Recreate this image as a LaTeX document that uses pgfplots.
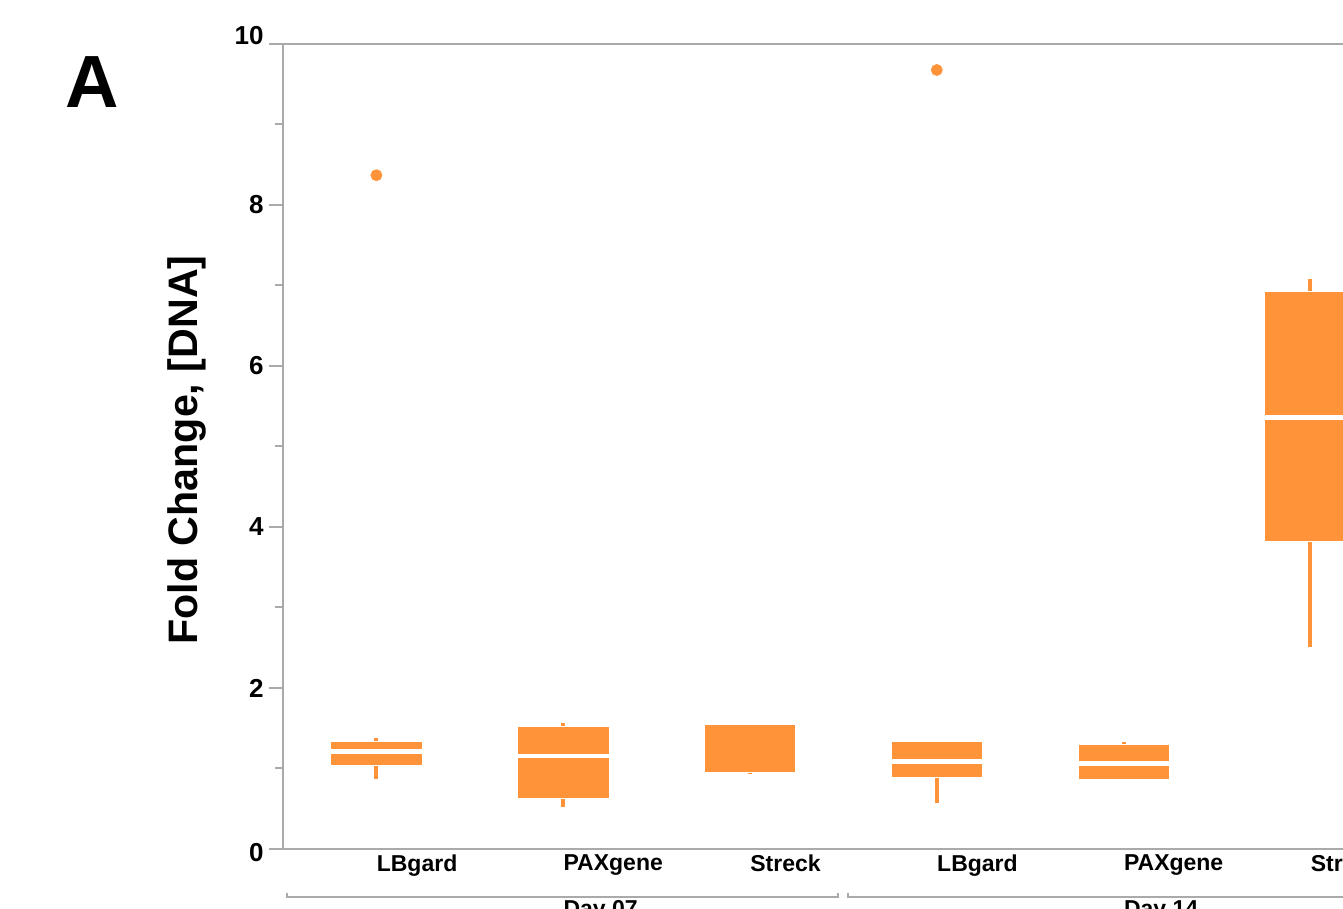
\documentclass[border=0pt]{standalone}
\usepackage{fontspec}
\setmainfont{Liberation Sans}
\usepackage{pgfplots}
\pgfplotsset{compat=1.18}
\usepgfplotslibrary{statistics}
\definecolor{boxorange}{RGB}{255,147,58}
\definecolor{axgray}{RGB}{170,170,170}
\begin{document}
\begin{tikzpicture}
\useasboundingbox (0,0) rectangle (671.5pt,454.5pt);
\clip (0,0) rectangle (671.5pt,454.5pt);
\begin{axis}[
  at={(141.5pt,30pt)}, anchor=south west,
  scale only axis, width=560.4pt, height=402.5pt,
  xmin=0.5, xmax=6.5, ymin=0, ymax=10,
  clip=false,
  axis line style={axgray, line width=1pt},
  xtick={1,...,6},
  xticklabels={LBgard,PAXgene,\raisebox{1.5pt}{Streck},LBgard,PAXgene,\raisebox{1.5pt}{Streck}},
  xtick style={draw=none},
  x tick label style={anchor=north west, inner sep=0pt, font=\fontsize{11.5}{12}\selectfont\bfseries, yshift=4.5pt},
  ytick={0,2,4,6,8,10},
  yticklabels={\raisebox{-1.75pt}[\height][\depth]{0},2,4,6,8,\raisebox{4.25pt}[\height][\depth]{10}},
  minor ytick={1,3,5,7,9},
  ytick pos=left, tick align=outside,
  major tick length=7pt, minor tick length=4pt,
  ytick style={axgray, line width=1pt},
  y tick label style={font=\fontsize{13}{14}\selectfont\bfseries, inner sep=0pt, xshift=-2.5pt},
  /pgf/number format/assume math mode=true,
  boxplot/draw direction=y,
  boxplot/box extend=0.49,
  boxplot/whisker extend=0,
  boxplot/every box/.style={draw=white, line width=0.3pt, fill=boxorange},
  boxplot/every whisker/.style={boxorange, line width=2pt},
  boxplot/every median/.style={white, line width=2.2pt},
]
% Day 07
\addplot[boxorange, boxplot prepared={draw position=1, lower whisker=0.870, lower quartile=1.035, median=1.209, upper quartile=1.333, upper whisker=1.375}] coordinates {};
\addplot[boxorange, boxplot prepared={draw position=2, lower whisker=0.525, lower quartile=0.630, median=1.158, upper quartile=1.519, upper whisker=1.569}] coordinates {};
\addplot[boxorange, boxplot prepared={draw position=3, lower whisker=0.880, lower quartile=0.948, median=0.900, upper quartile=1.549, upper whisker=1.549}] coordinates {};
% Day 14
\addplot[boxorange, boxplot prepared={draw position=4, lower whisker=0.575, lower quartile=0.891, median=1.085, upper quartile=1.333, upper whisker=1.333}] coordinates {};
\addplot[boxorange, boxplot prepared={draw position=5, lower whisker=0.870, lower quartile=0.870, median=1.060, upper quartile=1.304, upper whisker=1.329}] coordinates {};
\addplot[boxorange, boxplot prepared={draw position=6, lower whisker=2.513, lower quartile=3.817, median=5.360, upper quartile=6.932, upper whisker=7.077}] coordinates {};
% outliers
\addplot[only marks, mark=*, mark size=2.75pt, boxorange] coordinates {(1,8.37) (4,9.677)};
% group brackets
\draw[axgray, line width=1pt] (axis cs:0.524,-0.55) -- (axis cs:0.524,-0.596) -- (axis cs:3.473,-0.596) -- (axis cs:3.473,-0.55);
\draw[axgray, line width=1pt] (axis cs:3.527,-0.55) -- (axis cs:3.527,-0.596) -- (axis cs:7,-0.596);
\node[anchor=north west, inner sep=0pt, font=\fontsize{11.5}{12}\selectfont\bfseries, yshift=-1.5pt] at (axis cs:2,-0.596) {Day 07};
\node[anchor=north west, inner sep=0pt, font=\fontsize{11.5}{12}\selectfont\bfseries, yshift=-1.5pt] at (axis cs:5,-0.596) {Day 14};
\end{axis}
\node[rotate=90, anchor=base, inner sep=0pt, font=\fontsize{20.6}{22}\selectfont\bfseries] at (98.5pt,229.5pt) {Fold Change, [DNA]};
\node[anchor=base west, inner sep=0pt, font=\fontsize{37}{40}\selectfont\bfseries] at (32.5pt,400.5pt) {A};
\end{tikzpicture}
\end{document}
